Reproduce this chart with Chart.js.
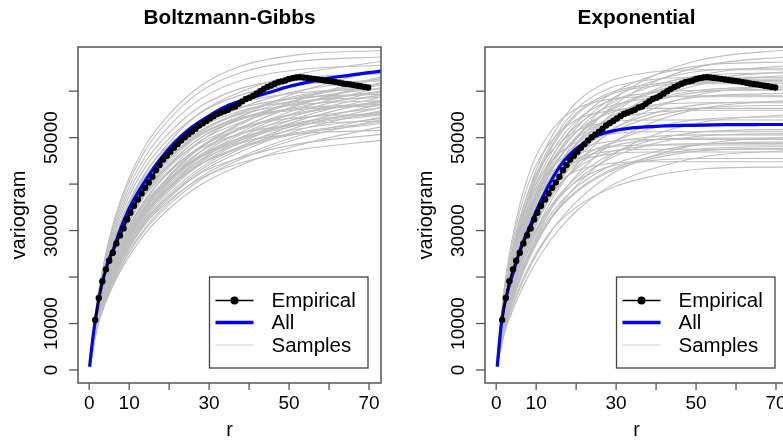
<!DOCTYPE html>
<html>
<head>
<meta charset="utf-8">
<script src="https://cdn.jsdelivr.net/npm/chart.js@4.4.1/dist/chart.umd.min.js"></script>
<style>
  html, body { margin: 0; padding: 0; background: #fff; overflow: hidden; }
  #wrap { position: relative; width: 783px; height: 442px; overflow: hidden; }
  #left { position: absolute; left: 0; top: 0; }
  #right { position: absolute; left: 400px; top: 0; }
</style>
</head>
<body>
<div id="wrap">
  <canvas id="left" width="400" height="442"></canvas>
  <canvas id="right" width="400" height="442"></canvas>
</div>
<script>
// empirical variogram (same in both panels)
const empR = [1.5, 2.4, 3.3, 4.2, 5.0, 5.9, 6.8, 7.7, 8.6, 9.5, 10.3, 11.2, 12.2, 13.1, 14.0, 14.9, 15.8, 16.7, 17.6, 18.5,
  19.4, 20.3, 21.2, 22.1, 23.0, 23.9, 24.8, 25.7, 26.6, 27.5, 28.4, 29.3, 30.2, 31.1, 32.0, 32.9, 33.8, 34.7, 35.6, 36.5,
  37.4, 38.3, 39.2, 40.1, 41.0, 41.9, 42.8, 43.7, 44.6, 45.5, 46.4, 47.3, 48.2, 49.1, 50.0, 50.9, 51.8, 52.7, 53.6, 54.5,
  55.4, 56.3, 57.2, 58.1, 59.0, 59.9, 60.8, 61.7, 62.6, 63.5, 64.4, 65.3, 66.2, 67.1, 68.0, 68.9, 69.8];
const empV = [10750, 15500, 19100, 21650, 23500, 25230, 27240, 28960, 30470, 32400,
  33830, 35330, 36700, 38000, 39200, 40360, 41570, 43000, 44090, 45300,
  46100, 46950, 47800, 48600, 49400, 50100, 50700, 51300, 51900, 52600,
  53100, 53600, 54100, 54600, 55100, 55400, 55700, 56000, 56500, 56700,
  57300, 57800, 58300, 58600, 59000, 59500, 60000, 60500, 60900, 61200,
  61600, 61900, 62100, 62300, 62600, 62800, 62950, 63000, 62950, 62850,
  62750, 62650, 62500, 62400, 62300, 62200, 62100, 61950, 61800, 61650,
  61550, 61450, 61300, 61150, 61050, 60900, 60800];

// fitted "All" curves
const bgAllR = [0.1, 1, 2, 3, 4, 5, 6, 8, 10, 12, 15, 18, 21, 25, 30, 35, 40, 45, 50, 55, 60, 65, 70, 74];
const bgAllV = [700, 7500, 13200, 17800, 21200, 24000, 25900, 30700, 34700, 37900, 42000, 45600, 48600, 51800,
  54700, 57000, 58400, 59700, 61000, 62000, 62800, 63400, 64000, 64400];
const expAllR = [0.25, 1.4, 3, 4.2, 6.25, 8.75, 11.25, 14.6, 17, 20, 24.25, 28.4, 32.6, 40.9, 49.25, 57.6, 66, 74];
const expAllV = [700, 10750, 17400, 20800, 26500, 31540, 36560, 42000, 45000, 47600, 50100, 51300, 51950, 52450,
  52650, 52780, 52820, 52830];

// sample curves, read at these r values
const sampleR = [0.3, 2, 5, 9, 14, 20, 28, 38, 52, 74];
const bgSamples = [
  [2400, 15100, 28200, 39200, 48200, 55000, 61200, 65400, 67800, 68800],
  [2400, 14800, 27600, 38400, 47200, 53900, 60000, 64000, 66400, 67400],
  [2100, 13600, 24800, 33800, 42200, 49000, 55500, 59900, 63600, 66500],
  [2300, 14400, 26900, 37400, 45900, 52500, 58400, 62300, 64600, 65600],
  [1600, 11000, 20100, 28600, 36300, 42800, 49300, 54500, 59700, 64900],
  [2000, 13200, 24000, 32700, 40800, 47400, 53600, 57900, 61500, 64300],
  [2200, 14000, 26200, 36400, 44700, 51000, 56800, 60600, 62800, 63800],
  [1600, 10800, 19600, 27900, 35400, 41800, 48100, 53200, 58200, 63300],
  [1900, 12900, 23400, 32000, 39900, 46300, 52400, 56500, 60000, 62800],
  [2200, 13700, 25500, 35500, 43600, 49800, 55400, 59200, 61400, 62300],
  [1500, 10500, 19200, 27200, 34700, 40900, 47000, 52000, 56900, 61900],
  [1900, 12600, 22900, 31300, 39000, 45300, 51200, 55300, 58700, 61400],
  [1500, 10400, 18900, 26800, 34200, 40300, 46400, 51200, 56100, 61000],
  [2100, 13300, 24800, 34500, 42400, 48400, 53800, 57500, 59600, 60500],
  [1900, 12300, 22400, 30600, 38200, 44300, 50100, 54100, 57500, 60100],
  [1500, 10100, 18500, 26200, 33400, 39300, 45300, 50100, 54800, 59600],
  [1800, 12100, 22100, 30100, 37600, 43600, 49400, 53300, 56600, 59200],
  [2100, 12900, 24100, 33500, 41100, 47000, 52200, 55800, 57800, 58700],
  [1500, 9900, 18100, 25700, 32600, 38500, 44300, 49000, 53600, 58300],
  [1800, 11800, 21600, 29400, 36700, 42600, 48200, 52000, 55300, 57800],
  [1400, 9800, 17800, 25300, 32100, 37900, 43600, 48200, 52800, 57400],
  [2000, 12500, 23300, 32400, 39800, 45500, 50600, 54100, 56000, 56900],
  [1800, 11600, 21100, 28800, 35900, 41600, 47100, 50900, 54000, 56500],
  [1400, 9500, 17400, 24600, 31400, 37000, 42600, 47000, 51500, 56000],
  [1700, 11400, 20700, 28300, 35300, 41000, 46400, 50000, 53200, 55600],
  [1900, 12100, 22600, 31400, 38600, 44100, 49000, 52300, 54300, 55100],
  [1400, 9300, 17000, 24100, 30600, 36100, 41600, 45900, 50300, 54700],
  [1700, 11100, 20200, 27600, 34400, 39900, 45200, 48800, 51800, 54200],
  [1900, 11800, 22000, 30600, 37500, 42900, 47700, 50900, 52800, 53600],
  [1600, 10900, 19800, 27000, 33700, 39100, 44300, 47800, 50800, 53100],
  [1300, 8900, 16300, 23100, 29400, 34700, 39900, 44100, 48300, 52500],
  [1800, 11400, 21200, 29400, 36100, 41300, 45900, 49000, 50800, 51600],
  [1600, 10400, 18900, 25900, 32300, 37400, 42400, 45700, 48600, 50800],
  [1500, 10100, 18500, 25200, 31400, 36500, 41300, 44600, 47300, 49500],
  [1900, 12500, 22700, 30900, 38600, 44800, 50700, 54700, 58100, 60800],
  [2000, 12800, 23800, 33100, 40600, 46400, 51600, 55100, 57100, 58000],
  [1700, 11300, 20500, 28000, 34900, 40500, 45900, 49500, 52600, 55000],
  [1600, 10500, 19200, 27300, 34700, 40900, 47100, 52100, 57000, 62000],
  [1600, 10700, 19500, 27700, 35300, 41600, 47900, 52900, 58000, 63000],
  [1900, 12600, 23000, 31400, 39200, 45500, 51500, 55500, 59000, 61700],
  [1500, 10300, 18700, 26500, 33800, 39800, 45800, 50700, 55500, 60300],
  [1900, 12300, 22300, 30500, 38000, 44100, 50000, 53900, 57300, 59900],
  [1500, 10000, 18300, 25900, 33000, 38900, 44800, 49500, 54200, 58900],
  [1800, 11800, 21500, 29300, 36600, 42500, 48000, 51800, 55100, 57600],
  [1400, 9600, 17600, 24900, 31800, 37400, 43100, 47600, 52200, 56700],
  [1700, 11300, 20600, 28100, 35100, 40800, 46100, 49800, 52900, 55300],
  [1400, 9200, 16700, 23800, 30200, 35600, 41000, 45400, 49700, 54000],
  [1700, 10900, 19900, 27200, 33900, 39400, 44500, 48100, 51100, 53400],
  [2100, 13100, 24400, 33900, 41600, 47500, 52900, 56400, 58500, 59400],
  [2000, 12600, 23500, 32600, 40000, 45800, 50900, 54300, 56300, 57200]
];
const expSamples = [
  [1700, 11000, 21400, 31700, 41400, 49700, 57300, 62800, 66900, 69000],
  [1700, 10800, 20900, 31100, 40500, 48600, 56000, 61400, 65500, 67500],
  [2000, 12600, 24500, 35800, 45700, 53000, 59000, 63000, 65600, 66300],
  [1600, 10500, 20300, 30200, 39400, 47200, 54400, 59700, 63600, 65600],
  [2000, 12400, 24100, 35100, 44900, 52000, 57900, 61800, 64400, 65000],
  [2600, 16200, 29100, 40700, 50400, 57500, 62000, 64000, 64600, 64600],
  [1900, 12200, 23700, 34600, 44200, 51200, 57000, 60800, 63400, 64000],
  [1600, 10200, 19700, 29200, 38100, 45700, 52700, 57800, 61600, 63500],
  [2500, 15800, 28400, 39700, 49100, 56100, 60500, 62400, 63000, 63000],
  [1900, 11900, 23100, 33700, 43100, 49900, 55500, 59300, 61800, 62400],
  [2500, 15500, 27900, 39100, 48400, 55200, 59500, 61400, 62000, 62000],
  [1500, 9800, 19000, 28200, 36800, 44100, 50900, 55800, 59500, 61300],
  [1800, 11600, 22500, 32900, 42000, 48700, 54200, 57900, 60300, 60900],
  [2400, 15100, 27100, 37900, 47000, 53600, 57800, 59600, 60200, 60200],
  [1800, 11300, 22000, 32100, 41100, 47600, 53000, 56500, 58900, 59500],
  [2900, 17600, 32300, 44100, 51700, 56200, 58200, 58800, 58800, 58800],
  [1500, 9300, 18000, 26700, 34900, 41800, 48200, 52900, 56400, 58100],
  [2300, 14400, 25900, 36200, 44900, 51200, 55200, 56900, 57500, 57500],
  [1700, 10800, 21100, 30800, 39300, 45600, 50700, 54200, 56400, 57000],
  [2800, 16900, 31000, 42200, 49500, 53800, 55700, 56300, 56300, 56300],
  [2200, 14000, 25200, 35200, 43600, 49800, 53700, 55300, 55900, 55900],
  [1400, 8800, 17100, 25300, 33000, 39600, 45700, 50100, 53400, 55000],
  [1600, 10400, 20200, 29400, 37600, 43600, 48500, 51800, 54000, 54500],
  [2700, 16100, 29600, 40400, 47300, 51400, 53300, 53800, 53800, 53800],
  [2100, 13300, 23900, 33400, 41300, 47200, 50900, 52500, 53000, 53000],
  [1600, 9800, 19200, 28000, 35700, 41400, 46100, 49200, 51300, 51800],
  [2600, 15400, 28200, 38400, 45100, 49000, 50700, 51250, 51250, 51250],
  [2000, 12700, 22800, 31900, 39500, 45000, 48600, 50100, 50600, 50600],
  [1300, 8000, 15600, 23100, 30100, 36100, 41700, 45700, 48700, 50200],
  [2500, 14900, 27300, 37200, 43600, 47400, 49100, 49600, 49600, 49600],
  [1500, 9300, 18200, 26500, 33900, 39300, 43700, 46600, 48600, 49100],
  [1900, 12200, 21900, 30700, 38000, 43300, 46800, 48200, 48700, 48700],
  [2400, 14500, 26600, 36300, 42600, 46300, 47900, 48400, 48400, 48400],
  [1400, 9100, 17600, 25800, 32900, 38200, 42500, 45300, 47200, 47700],
  [1200, 7600, 14700, 21800, 28400, 34100, 39300, 43000, 45900, 47300],
  [2300, 14100, 25800, 35200, 41300, 44800, 46400, 46900, 46900, 46900],
  [1800, 11400, 20500, 28700, 35500, 40500, 43700, 45000, 45500, 45500],
  [2200, 13400, 24600, 33600, 39400, 42800, 44400, 44800, 44800, 44800],
  [1300, 8300, 16200, 23600, 30200, 35000, 38900, 41500, 43300, 43700],
  [2500, 15400, 27700, 38800, 48000, 54800, 59100, 61000, 61600, 61600],
  [1800, 11500, 22400, 32700, 41700, 48400, 53800, 57500, 59900, 60500],
  [2400, 14800, 26600, 37200, 46000, 52500, 56600, 58400, 59000, 59000],
  [1700, 11000, 21400, 31200, 39900, 46200, 51400, 54900, 57200, 57800],
  [1500, 9700, 18800, 27500, 35100, 40700, 45300, 48400, 50400, 50900],
  [2000, 12500, 22500, 31400, 38900, 44400, 47900, 49400, 49900, 49900],
  [1400, 9100, 17800, 26000, 33200, 38500, 42800, 45700, 47600, 48100],
  [2400, 14300, 26100, 35600, 41800, 45400, 47000, 47500, 47500, 47500],
  [1600, 10300, 19900, 29600, 38600, 46300, 53400, 58500, 62400, 64300],
  [1900, 11900, 23200, 33900, 43300, 50200, 55800, 59600, 62100, 62700]
];

const xTicks = [0, 10, 20, 30, 40, 50, 60, 70];
const xTickLabels = ['0', '10', '', '30', '', '50', '', '70'];
const yTicks = [0, 10000, 20000, 30000, 40000, 50000, 60000];
const yTickLabels = ['0', '10000', '', '30000', '', '50000', ''];
const legendLabels = ['Empirical', 'All', 'Samples'];

const FONT = '"Liberation Sans", Arial, Helvetica, sans-serif';

// R style frame, ticks, labels and legend
const rFrame = {
  id: 'rFrame',
  afterDraw(chart, args, opts) {
    const ctx = chart.ctx;
    const a = chart.chartArea;
    const xs = chart.scales.x, ys = chart.scales.y;
    const cx = (a.left + a.right) / 2, cy = (a.top + a.bottom) / 2;
    ctx.save();

    // legend box
    const lx = a.left + 131.5, lr = a.right - 13, lt = 277, lb = 368;
    ctx.fillStyle = '#fff';
    ctx.fillRect(lx, lt, lr - lx, lb - lt);
    ctx.strokeStyle = '#444';
    ctx.lineWidth = 1.3;
    ctx.strokeRect(lx, lt, lr - lx, lb - lt);
    const rows = [300.5, 322.5, 345];
    ctx.lineCap = 'butt';
    ctx.strokeStyle = '#000'; ctx.lineWidth = 1.5;
    ctx.beginPath(); ctx.moveTo(lx + 6, rows[0]); ctx.lineTo(lx + 44, rows[0]); ctx.stroke();
    ctx.fillStyle = '#000';
    ctx.beginPath(); ctx.arc(lx + 25, rows[0], 4, 0, Math.PI * 2); ctx.fill();
    ctx.strokeStyle = '#0000ff'; ctx.lineWidth = 3.5;
    ctx.beginPath(); ctx.moveTo(lx + 6, rows[1]); ctx.lineTo(lx + 44, rows[1]); ctx.stroke();
    ctx.strokeStyle = '#d0d0d0'; ctx.lineWidth = 1.2;
    ctx.beginPath(); ctx.moveTo(lx + 6, rows[2]); ctx.lineTo(lx + 44, rows[2]); ctx.stroke();
    ctx.fillStyle = '#000';
    ctx.font = '20.5px ' + FONT;
    ctx.textAlign = 'left';
    ctx.textBaseline = 'middle';
    legendLabels.forEach((t, i) => ctx.fillText(t, lx + 62, rows[i] + 1));

    // box
    ctx.strokeStyle = '#555';
    ctx.lineWidth = 1.5;
    ctx.strokeRect(a.left, a.top, a.right - a.left, a.bottom - a.top);

    // x axis
    ctx.lineWidth = 1.3;
    ctx.font = '19px ' + FONT;
    ctx.textAlign = 'center';
    xTicks.forEach((t, i) => {
      const px = xs.getPixelForValue(t);
      ctx.beginPath(); ctx.moveTo(px, a.bottom); ctx.lineTo(px, a.bottom + 7); ctx.stroke();
      if (xTickLabels[i]) ctx.fillText(xTickLabels[i], px, 404);
    });
    // y axis
    yTicks.forEach((t, i) => {
      const py = ys.getPixelForValue(t);
      ctx.beginPath(); ctx.moveTo(a.left - 9, py); ctx.lineTo(a.left, py); ctx.stroke();
      if (yTickLabels[i]) {
        ctx.save();
        ctx.translate(a.left - 26, py);
        ctx.rotate(-Math.PI / 2);
        ctx.fillText(yTickLabels[i], 0, 0);
        ctx.restore();
      }
    });

    // axis titles and main title
    ctx.font = '20px ' + FONT;
    ctx.fillText('r', cx, 430);
    ctx.save();
    ctx.translate(a.left - 59, cy);
    ctx.rotate(-Math.PI / 2);
    ctx.fillText('variogram', 0, 0);
    ctx.restore();
    ctx.font = 'bold 20.8px ' + FONT;
    ctx.fillText(opts.title, cx, 18);
    ctx.restore();
  }
};

function toPoints(xs, ys) {
  return xs.map((x, i) => ({ x: x, y: ys[i] }));
}

function makeChart(id, title, allR, allV, samples, pad) {
  const datasets = [];
  datasets.push({
    label: 'Empirical',
    data: toPoints(empR, empV),
    borderColor: '#000',
    backgroundColor: '#000',
    borderWidth: 2,
    pointRadius: 3.2,
    pointBorderWidth: 0,
    tension: 0
  });
  datasets.push({
    label: 'All',
    data: toPoints(allR, allV),
    borderColor: '#0000ff',
    borderWidth: 3.2,
    pointRadius: 0,
    cubicInterpolationMode: 'monotone'
  });
  samples.forEach(s => {
    datasets.push({
      label: 'Samples',
      data: toPoints(sampleR, s),
      borderColor: '#bebebe',
      borderWidth: 1.1,
      pointRadius: 0,
      cubicInterpolationMode: 'monotone'
    });
  });

  return new Chart(document.getElementById(id), {
    type: 'line',
    data: { datasets: datasets },
    options: {
      responsive: false,
      animation: false,
      events: [],
      layout: { padding: pad },
      scales: {
        x: { type: 'linear', min: -2.8, max: 73, display: false },
        y: { type: 'linear', min: -2800, max: 69500, display: false }
      },
      plugins: {
        legend: { display: false },
        tooltip: { enabled: false },
        rFrame: { title: title }
      }
    },
    plugins: [rFrame]
  });
}

makeChart('left', 'Boltzmann-Gibbs', bgAllR, bgAllV, bgSamples, { left: 78, right: 19, top: 47, bottom: 59 });
makeChart('right', 'Exponential', expAllR, expAllV, expSamples, { left: 85, right: 12, top: 47, bottom: 59 });
</script>
</body>
</html>
